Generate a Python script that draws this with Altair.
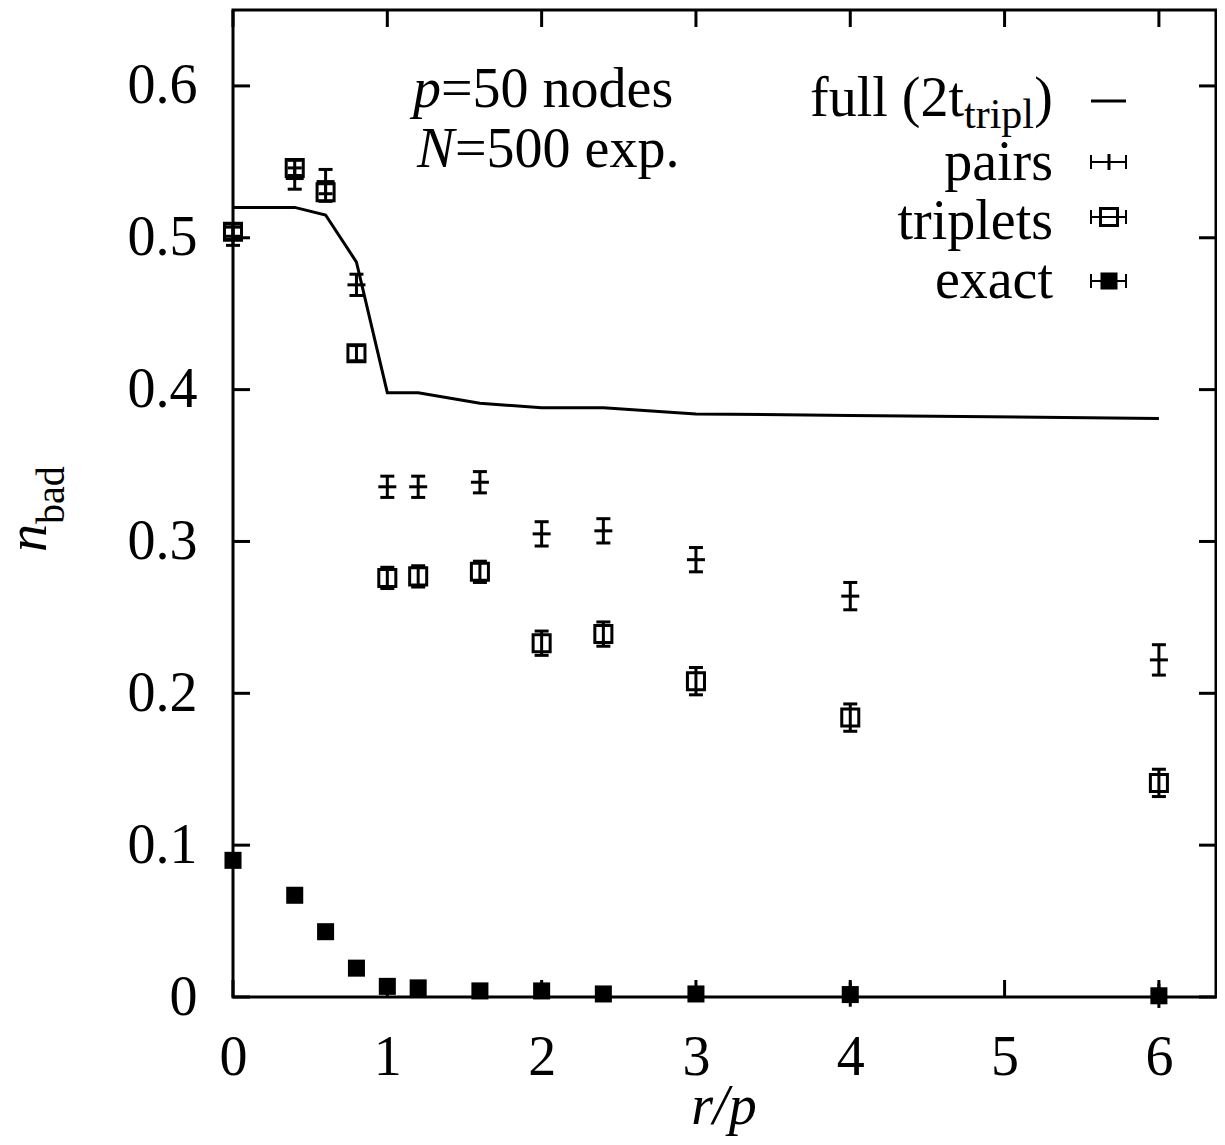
import altair as alt
import pandas as pd

# ---- data ----
r_over_p = [0, 0.4, 0.6, 0.8, 1.0, 1.2, 1.6, 2.0, 2.4, 3.0, 4.0, 6.0]
full_2t = [0.520, 0.520, 0.515, 0.484, 0.398, 0.398, 0.391, 0.388, 0.388, 0.384, 0.383, 0.381]
pairs = [0.501, 0.539, 0.537, 0.469, 0.336, 0.336, 0.339, 0.305, 0.307, 0.288, 0.264, 0.222]
pairs_err = [0.006, 0.007, 0.008, 0.007, 0.007, 0.007, 0.007, 0.008, 0.008, 0.008, 0.009, 0.010]
triplets = [0.504, 0.546, 0.530, 0.424, 0.276, 0.277, 0.280, 0.233, 0.239, 0.208, 0.184, 0.141]
triplets_err = [0.005, 0.005, 0.006, 0.005, 0.007, 0.007, 0.007, 0.008, 0.008, 0.009, 0.009, 0.009]
exact = [0.090, 0.067, 0.043, 0.019, 0.007, 0.006, 0.004, 0.004, 0.002, 0.002, 0.0016, 0.0008]
exact_err = [0.003, 0.003, 0.003, 0.003, 0.003, 0.003, 0.003, 0.003, 0.003, 0.005, 0.008, 0.008]

x_ticks = [0, 1, 2, 3, 4, 5, 6]
y_ticks = [0, 0.1, 0.2, 0.3, 0.4, 0.5, 0.6]

FONT = "Liberation Serif"
FS = 56
W, H = 983, 987

df = pd.DataFrame({
    "x": r_over_p, "full": full_2t,
    "pairs": pairs, "p_lo": [a - b for a, b in zip(pairs, pairs_err)], "p_hi": [a + b for a, b in zip(pairs, pairs_err)],
    "trip": triplets, "t_lo": [a - b for a, b in zip(triplets, triplets_err)], "t_hi": [a + b for a, b in zip(triplets, triplets_err)],
    "exact": exact, "e_lo": [a - b for a, b in zip(exact, exact_err)], "e_hi": [a + b for a, b in zip(exact, exact_err)],
})
xt = pd.DataFrame({"v": x_ticks})
yt = pd.DataFrame({"v": y_ticks})
dummy = pd.DataFrame({"a": [0]})

xscale = alt.Scale(domain=[0, 6.37], nice=False, zero=False)
yscale = alt.Scale(domain=[0, 0.65], nice=False, zero=False)
xaxis = alt.Axis(values=x_ticks, title=None, format="~g", labelPadding=33, labelFlush=False)
yaxis = alt.Axis(values=y_ticks, title=None, format="~g", labelPadding=36, labelFlush=False)


def X(f):
    return alt.X(f, type="quantitative", scale=xscale, axis=xaxis)


def Y(f):
    return alt.Y(f, type="quantitative", scale=yscale, axis=yaxis)


base = alt.Chart(df)
layers = []

# full line
layers.append(base.mark_line(color="black", strokeWidth=3).encode(x=X("x"), y=Y("full")))

# pairs: error bars + caps + center bar
layers.append(base.mark_rule(color="black", strokeWidth=3).encode(x=X("x"), y=Y("p_lo"), y2="p_hi"))
layers.append(base.mark_tick(color="black", orient="horizontal", size=14, thickness=3, opacity=1).encode(x=X("x"), y=Y("p_lo")))
layers.append(base.mark_tick(color="black", orient="horizontal", size=14, thickness=3, opacity=1).encode(x=X("x"), y=Y("p_hi")))
layers.append(base.mark_tick(color="black", orient="horizontal", size=18, thickness=3, opacity=1).encode(x=X("x"), y=Y("pairs")))

# triplets: error bars + open squares
layers.append(base.mark_rule(color="black", strokeWidth=3).encode(x=X("x"), y=Y("t_lo"), y2="t_hi"))
layers.append(base.mark_tick(color="black", orient="horizontal", size=14, thickness=3, opacity=1).encode(x=X("x"), y=Y("t_lo")))
layers.append(base.mark_tick(color="black", orient="horizontal", size=14, thickness=3, opacity=1).encode(x=X("x"), y=Y("t_hi")))
layers.append(base.mark_point(shape="square", filled=False, color="black", size=290, strokeWidth=3, opacity=1).encode(x=X("x"), y=Y("trip")))

# exact: error bars + filled squares
layers.append(base.mark_rule(color="black", strokeWidth=3).encode(x=X("x"), y=Y("e_lo"), y2="e_hi"))
layers.append(base.mark_square(color="black", size=290, opacity=1).encode(x=X("x"), y=Y("exact")))

# inward ticks on all four sides
TL = 17
layers.append(alt.Chart(yt).mark_rule(color="black", strokeWidth=3).encode(y=Y("v"), x=alt.value(0), x2=alt.value(TL)))
layers.append(alt.Chart(yt).mark_rule(color="black", strokeWidth=3).encode(y=Y("v"), x=alt.value(W - TL), x2=alt.value(W)))
layers.append(alt.Chart(xt).mark_rule(color="black", strokeWidth=3).encode(x=X("v"), y=alt.value(H), y2=alt.value(H - TL)))
layers.append(alt.Chart(xt).mark_rule(color="black", strokeWidth=3).encode(x=X("v"), y=alt.value(0), y2=alt.value(TL)))

d = alt.Chart(dummy)


def txt(s, x, y, size=FS, style="normal", align="left", angle=0):
    m = dict(text=s, font=FONT, fontSize=size, fontStyle=style, align=align, baseline="alphabetic", color="black")
    if angle:
        m["angle"] = angle
    return d.mark_text(**m).encode(x=alt.value(x), y=alt.value(y))


def hline(x1, x2, y, sw=3):
    return d.mark_rule(color="black", strokeWidth=sw).encode(x=alt.value(x1), x2=alt.value(x2), y=alt.value(y))


def vline(x, y1, y2, sw=3):
    return d.mark_rule(color="black", strokeWidth=sw).encode(x=alt.value(x), y=alt.value(y1), y2=alt.value(y2))


# annotation
layers += [
    txt("p", 180, 97, style="italic"),
    txt("=50 nodes", 208, 97),
    txt("N", 184, 157, style="italic"),
    txt("=500 exp.", 222, 157),
]

# legend texts
layers += [
    txt(")", 820, 106, align="right"),
    txt("tripl", 801, 118, size=42, align="right"),
    txt("full (2t", 731, 106, align="right"),
    txt("pairs", 820, 170, align="right"),
    txt("triplets", 820, 229, align="right"),
    txt("exact", 820, 288, align="right"),
]

# legend symbols
LX1, LX2, LXC = 858, 893, 876
layers += [hline(LX1, LX2, 91)]
for yy in (152, 207, 271):
    layers += [hline(LX1, LX2, yy, 2), vline(LX1, yy - 7, yy + 7, 2), vline(LX2, yy - 7, yy + 7, 2)]
layers += [vline(LXC, 144, 160)]
layers.append(d.mark_point(shape="square", filled=False, color="black", size=290, strokeWidth=3, opacity=1)
              .encode(x=alt.value(LXC), y=alt.value(207)))
layers.append(d.mark_square(color="black", size=290, opacity=1).encode(x=alt.value(LXC), y=alt.value(271)))

# axis titles
layers += [
    txt("n", -187, 542, style="italic", angle=270),
    txt("bad", -169, 514, size=40, angle=270),
    txt("r/p", 491, 1114, style="italic", align="center"),
]

chart = alt.layer(*layers).properties(
    width=W, height=H,
    autosize=alt.AutoSizeParams(type="none"),
    padding={"left": 225, "top": 2, "right": 1, "bottom": 139},
).configure_view(
    stroke="black", strokeWidth=3
).configure_axis(
    labelFont=FONT, labelFontSize=FS, labelColor="black",
    ticks=False, domain=False, grid=False,
)

chart.save("out.html", embed_options={"renderer": "svg", "actions": False})
